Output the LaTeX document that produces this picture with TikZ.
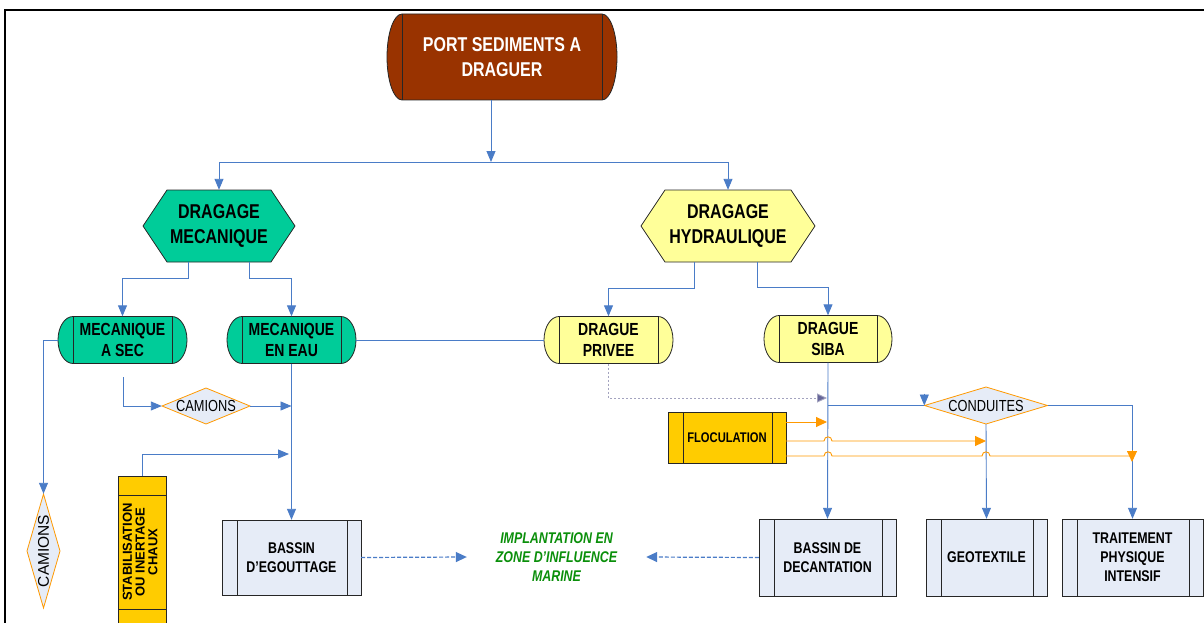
\documentclass[tikz,border=0pt]{standalone}
\usepackage{fontspec}
\setmainfont{Liberation Sans}[FakeStretch=0.8]
\newfontfamily\rsPlain{Liberation Sans}
\usetikzlibrary{arrows.meta}
\definecolor{rsBlue}{HTML}{4A7CC7}
\definecolor{rsBrown}{HTML}{993300}
\definecolor{rsTeal}{HTML}{00CC99}
\definecolor{rsYellow}{HTML}{FFFF99}
\definecolor{rsGold}{HTML}{FFCC00}
\definecolor{rsPale}{HTML}{E6ECF7}
\definecolor{rsOrange}{HTML}{FF9900}
\definecolor{rsGreen}{HTML}{0A8F0A}
\definecolor{rsGray}{HTML}{A3A3BF}
\definecolor{rsPurple}{HTML}{666699}
\newcommand\rsBig{\bfseries\fontsize{20}{25}\selectfont}
\newcommand\rsMid{\bfseries\fontsize{17.5}{21}\selectfont}
\newcommand\rsBox{\bfseries\fontsize{15.5}{19}\selectfont}
\newcommand\rsDia{\fontsize{16}{19}\selectfont}
\newcommand\rsFloc{\bfseries\fontsize{14}{16}\selectfont}
\newcommand\rsImpl{\bfseries\itshape\fontsize{15.5}{19}\selectfont}
\newcommand\rsStab{\rsPlain\bfseries\fontsize{13}{12.5}\selectfont}
% geometry helper
\newcommand\rsGeom[4]{%
  \pgfmathsetmacro\pLa{#1-#3/2}\pgfmathsetmacro\pLb{#1+#3/2}%
  \pgfmathsetmacro\pTa{#2-#4/2}\pgfmathsetmacro\pTb{#2+#4/2}}
% pill: name cx cy w h fill font text
\newcommand\pillnode[8]{%
  \rsGeom{#2}{#3}{#4}{#5}%
  \pgfmathsetmacro\pIa{\pLa+15}\pgfmathsetmacro\pIb{\pLb-15}%
  \pgfmathsetmacro\pKx{0.5523*15}\pgfmathsetmacro\pKy{0.5523*#5/2}%
  \filldraw[shapeline, fill=#6] (\pIa,\pTa) -- (\pIb,\pTa)
    .. controls (\pIb+\pKx,\pTa) and (\pLb,#3-\pKy) .. (\pLb,#3)
    .. controls (\pLb,#3+\pKy) and (\pIb+\pKx,\pTb) .. (\pIb,\pTb)
    -- (\pIa,\pTb)
    .. controls (\pIa-\pKx,\pTb) and (\pLa,#3+\pKy) .. (\pLa,#3)
    .. controls (\pLa,#3-\pKy) and (\pIa-\pKx,\pTa) .. (\pIa,\pTa) -- cycle;
  \draw[shapeline] (\pIa,\pTa) -- (\pIa,\pTb) (\pIb,\pTa) -- (\pIb,\pTb);
  \node[txt, #7, minimum width=#4pt, minimum height=#5pt] (#1) at (#2,#3) {#8};}
% box with side bars
\newcommand\barnode[8]{%
  \rsGeom{#2}{#3}{#4}{#5}%
  \filldraw[shapeline, fill=#6] (\pLa,\pTa) rectangle (\pLb,\pTb);
  \draw[shapeline] (\pLa+15,\pTa) -- (\pLa+15,\pTb) (\pLb-14,\pTa) -- (\pLb-14,\pTb);
  \node[txt, #7, minimum width=#4pt, minimum height=#5pt] (#1) at (#2,#3) {#8};}
% hexagon
\newcommand\hexnode[8]{%
  \rsGeom{#2}{#3}{#4}{#5}%
  \filldraw[shapeline, fill=#6] (\pLa,#3) -- (\pLa+24,\pTa) -- (\pLb-24,\pTa) -- (\pLb,#3)
    -- (\pLb-24,\pTb) -- (\pLa+24,\pTb) -- cycle;
  \node[txt, #7, minimum width=#4pt, minimum height=#5pt] (#1) at (#2,#3) {#8};}
% diamond
\newcommand\diamnode[7]{%
  \rsGeom{#2}{#3}{#4}{#5}%
  \filldraw[dialine] (\pLa,#3) -- (#2,\pTa) -- (\pLb,#3) -- (#2,\pTb) -- cycle;
  \node[txt, #6, minimum width=#4pt, minimum height=#5pt] (#1) at (#2,#3) {#7};}
\begin{document}
\begin{tikzpicture}[x=1pt,y=-1pt,
  shapeline/.style={draw=black!85, line width=0.8pt},
  dialine/.style={draw=rsOrange, line width=0.8pt, fill=rsPale},
  txt/.style={inner sep=0pt, align=center, text=black},
  line/.style={draw=rsBlue, line width=0.9pt},
  conn/.style={line, -{Triangle[length=11pt,width=9pt]}},
  dconn/.style={draw=rsBlue, line width=1.2pt, dash pattern=on 4pt off 2pt, -{Triangle[length=11pt,width=10pt]}},
  gconn/.style={draw=rsGray, line width=0.9pt, dash pattern=on 2pt off 2pt, -{Triangle[length=10pt,width=9pt,fill=rsPurple]}},
  oconn/.style={draw=rsOrange, line width=0.9pt, -{Triangle[length=11pt,width=10pt]}},
  oline/.style={draw=rsOrange, line width=0.9pt}]
\useasboundingbox (0,0) rectangle (1204,623);
\clip (0,0) rectangle (1204,623);
\fill[white] (0,0) rectangle (1204,623);
% frame
\draw[line width=2pt, black] (5,640) -- (5,10) -- (1230,10);

% nodes
\pillnode{port}{502}{57}{230}{86}{rsBrown}{text=white, font=\rsBig}{PORT SEDIMENTS A\\DRAGUER}
\hexnode{hexM}{219}{226}{152}{72}{rsTeal}{font=\rsBig}{DRAGAGE\\MECANIQUE}
\hexnode{hexH}{728}{226}{174}{72}{rsYellow}{font=\rsBig}{DRAGAGE\\HYDRAULIQUE}
\pillnode{asec}{122.5}{340}{129}{47}{rsTeal}{font=\rsMid}{MECANIQUE\\A SEC}
\pillnode{eneau}{291.5}{340}{129}{47}{rsTeal}{font=\rsMid}{MECANIQUE\\EN EAU}
\pillnode{privee}{608.5}{340}{129}{47}{rsYellow}{font=\rsMid}{DRAGUE\\PRIVEE}
\pillnode{siba}{828}{339}{128}{47}{rsYellow}{font=\rsMid}{DRAGUE\\SIBA}
\diamnode{camH}{206}{406}{88}{36}{font=\rsDia}{CAMIONS}
\diamnode{camV}{43.5}{551}{33}{114}{font=\rsPlain\fontsize{15.5}{18}\selectfont}{\rotatebox{90}{CAMIONS}}
\diamnode{conduites}{986}{405.5}{123}{37}{font=\rsDia}{CONDUITES}
\barnode{floc}{727}{437.5}{118}{51}{rsGold}{font=\rsFloc}{FLOCULATION}
\barnode{egout}{291.5}{557.5}{139}{75}{rsPale}{font=\rsBox}{BASSIN\\D'EGOUTTAGE}
\barnode{decant}{827.5}{557.5}{137}{77}{rsPale}{font=\rsBox}{BASSIN DE\\DECANTATION}
\barnode{geo}{986.5}{557.5}{121}{77}{rsPale}{font=\rsBox}{GEOTEXTILE}
\barnode{traite}{1132.5}{557.5}{141}{77}{rsPale}{font=\rsBox}{TRAITEMENT\\PHYSIQUE\\INTENSIF}
% stabilisation box
\filldraw[shapeline, fill=rsGold] (118,476) rectangle (166,628);
\draw[shapeline] (118,495) -- (166,495) (118,609) -- (166,609);
\node[txt, font=\rsStab, minimum width=48pt, minimum height=152pt] (stab) at (142,552)
  {\rotatebox{90}{\begin{tabular}{@{}c@{}}STABILISATION\\OU INERTAGE\\CHAUX\end{tabular}}};
\node[txt, font=\rsImpl, text=rsGreen, minimum width=179pt] (impl) at (556.5,557)
  {IMPLANTATION EN\\ZONE D'INFLUENCE\\MARINE};

% coordinates
\coordinate (jTop) at (491,162);
\coordinate (jL) at (219,162);
\coordinate (jR) at (728,162);
\coordinate (asecOut) at (123,377);
\coordinate (stabJ) at (289,454);
\coordinate (dotEnd) at (827,398);
\coordinate (f1) at (827,422);
\coordinate (oTip) at (1132,462);

% connectors
\draw[conn] ([xshift=-11pt]port.south) -- (jTop);
\draw[line] (jL) -- (jR);
\draw[conn] (jL) -- (hexM.north);
\draw[conn] (jR) -- (hexH.north);
\draw[conn] ([xshift=-31pt]hexM.south) -- ++(0,16) -| (asec.north);
\draw[conn] ([xshift=30pt]hexM.south) -- ++(0,16) -| (eneau.north);
\draw[conn] ([xshift=-34pt]hexH.south) -- ++(0,26) -| (privee.north);
\draw[conn] ([xshift=29pt]hexH.south) -- ++(0,25) -| (siba.north);
\draw[line] (eneau.east) -- (eneau.east -| privee.west);
\draw[conn] (asec.west) -| (camV.north);
\draw[conn] (asecOut) |- (camH.west);
\draw[conn] (camH.east) -- (camH.east -| eneau.south);
\draw[conn] (stab.north) |- (stabJ);
\draw[conn] (eneau.south) -- (egout.north);
\draw[dconn] (egout.east) -- (impl.west);
\draw[dconn] (decant.west) -- (impl.east);
\draw[gconn] (privee.south) |- (dotEnd);
\draw[conn] (siba.south) -- (decant.north);
\draw[line] (siba.south |- conduites.west) -- (conduites.west);
\draw[conn] ([yshift=12pt]conduites.west) -- (conduites.west);
\draw[conn] (conduites.east) -| (traite.north);
\draw[conn] (conduites.south) -- (geo.north);
% floculation feeds
\draw[oconn] ([yshift=15.5pt]floc.east) -- (f1);
\draw[oconn] ([yshift=-3.5pt]floc.east) -- (824,441) .. controls (824,435.5) and (832,435.5) .. (832,441) -- (986,441);
\draw[oline] ([yshift=-18.5pt]floc.east) -- (824,456) .. controls (824,450.5) and (832,450.5) .. (832,456)
  -- (982,456) .. controls (982,450.5) and (990,450.5) .. (990,456) -- (1132,456);
\draw[oconn] (1132,450) -- (oTip);
\end{tikzpicture}
\end{document}
